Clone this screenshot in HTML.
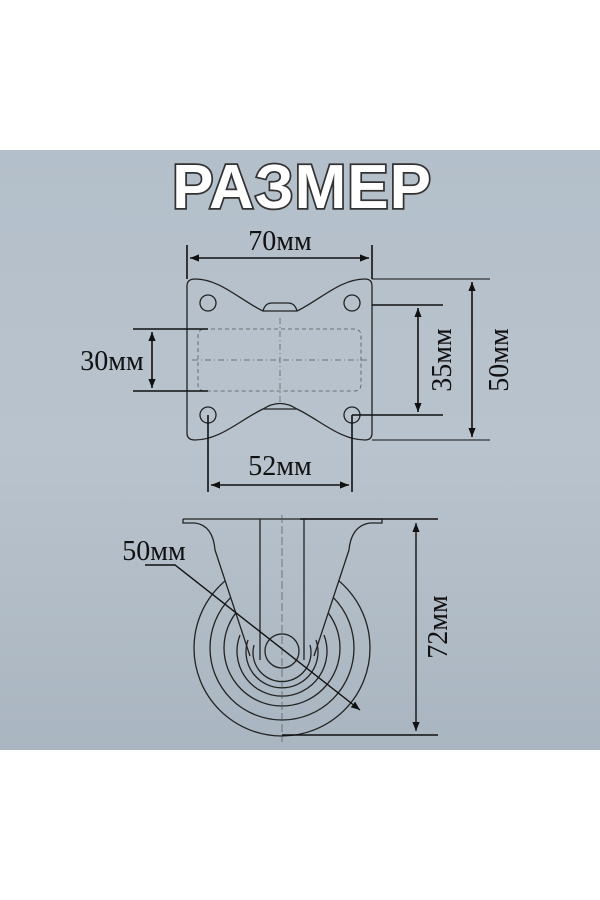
<!DOCTYPE html>
<html><head><meta charset="utf-8"><style>
html,body{margin:0;padding:0;background:#fff;width:600px;height:900px;overflow:hidden}
svg{display:block}
</style></head><body>
<svg width="600" height="900" viewBox="0 0 600 900" xmlns="http://www.w3.org/2000/svg">
<defs>
<linearGradient id="bg" x1="0" y1="0" x2="0" y2="1">
<stop offset="0" stop-color="#b3bfca"/><stop offset="0.5" stop-color="#b9c3cd"/><stop offset="1" stop-color="#a9b5c0"/>
</linearGradient>
<linearGradient id="bg2" gradientUnits="userSpaceOnUse" x1="0" y1="150" x2="0" y2="750">
<stop offset="0" stop-color="#b3bfca"/><stop offset="0.5" stop-color="#b9c3cd"/><stop offset="1" stop-color="#a9b5c0"/>
</linearGradient>
<marker id="a" viewBox="0 0 10 10" refX="10" refY="5" markerWidth="9" markerHeight="9" orient="auto-start-reverse" markerUnits="userSpaceOnUse"><path d="M0,1 L10,5 L0,9z" fill="#111"/></marker>
</defs>
<rect x="0" y="150" width="600" height="600" fill="url(#bg)"/>
<text x="302" y="208" text-anchor="middle" font-family="Liberation Sans, sans-serif" font-weight="bold" font-size="62" fill="#fff" stroke="#333" stroke-width="3.5" paint-order="stroke" letter-spacing="1">РАЗМЕР</text>

<g fill="none" stroke="#222" stroke-width="1.3">
<path d="M195,279 C220,279 240,300 263,311 L297,311 C320,300 340,279 365,279 Q372,279 372,286 L372,433 Q372,440 365,440 C340,440 320,420 297,409 L263,409 C240,420 220,440 195,440 Q187,440 187,433 L187,286 Q187,279 195,279Z"/>
<path d="M263,311 Q265,303 272,303 L288,303 Q295,303 297,311" />
<path d="M263,409 Q280,398 297,409"/>
<circle cx="208" cy="303" r="8"/><circle cx="352" cy="303" r="8"/>
<circle cx="208" cy="415" r="8"/><circle cx="352" cy="415" r="8"/>
<rect x="198" y="329" width="163" height="62" rx="6" stroke-dasharray="4,3" stroke-width="0.8" stroke="#555"/>
<path d="M280,318 L280,402 M192,360 L368,360" stroke-dasharray="6,3,1,3" stroke-width="0.7" stroke="#555"/>
</g>
<g stroke="#111" stroke-width="1.6" fill="none">
<path d="M187,245 L187,279 M372,245 L372,279"/>
<path d="M190,258 L369,258" marker-start="url(#a)" marker-end="url(#a)"/>
<path d="M133,329 L208,329 M133,391 L208,391"/>
<path d="M152,332 L152,388" marker-start="url(#a)" marker-end="url(#a)"/>
<path d="M372,305 L443,305 M352,415 L443,415"/>
<path d="M418,308 L418,412" marker-start="url(#a)" marker-end="url(#a)"/>
<path d="M372,279 L490,279 M372,440 L490,440" stroke-width="1"/>
<path d="M472,282 L472,437" marker-start="url(#a)" marker-end="url(#a)"/>
<path d="M208,415 L208,492 M352,415 L352,492"/>
<path d="M211,485 L349,485" marker-start="url(#a)" marker-end="url(#a)"/>
</g>
<g font-family="Liberation Serif, serif" font-size="28" fill="#111">
<text x="280" y="250" text-anchor="middle">70мм</text>
<text x="112" y="370" text-anchor="middle">30мм</text>
<text x="280" y="475" text-anchor="middle">52мм</text>
<text transform="translate(451,360) rotate(-90)" text-anchor="middle">35мм</text>
<text transform="translate(508,360) rotate(-90)" text-anchor="middle">50мм</text>
<text transform="translate(447,627) rotate(-90)" text-anchor="middle">72мм</text>
<text x="154" y="560" text-anchor="middle">50мм</text>
</g>

<!-- wheel -->
<g fill="none" stroke="#222" stroke-width="1.3">
<circle cx="282" cy="648" r="88"/>
<circle cx="282" cy="648" r="72"/>
<circle cx="282" cy="648" r="58"/>
<path d="M195,523 C210,525 214,538 215,550 L250,656 L314,656 L349,550 C350,538 355,525 370,523 Z" fill="url(#bg2)" stroke="none"/>
<path d="M240,635 A45,45 0 1 0 324,635"/>
<path d="M248,640 A36,36 0 1 0 316,640"/>
<path d="M254,645 A29,29 0 1 0 310,645"/>
<path d="M183,519 L382,519 L382,523 L370,523 M183,519 L183,523 L195,523"/>
<path d="M195,523 C210,525 214,538 215,550 L250,656"/>
<path d="M370,523 C355,525 350,538 349,550 L314,656"/>
<path d="M260,519 L260,660 M304,519 L304,660"/>
<circle cx="282" cy="651" r="17"/>
<path d="M282,515 L282,742" stroke-dasharray="8,3" stroke-width="0.7" stroke="#555"/>
</g>
<g stroke="#111" stroke-width="1.4" fill="none">
<path d="M145,565 L175,565 L360,710" marker-end="url(#a)"/>
<path d="M300,519 L438,519 M282,735 L438,735"/>
<path d="M416,523 L416,731" marker-start="url(#a)" marker-end="url(#a)"/>
</g>
</svg>
</body></html>
